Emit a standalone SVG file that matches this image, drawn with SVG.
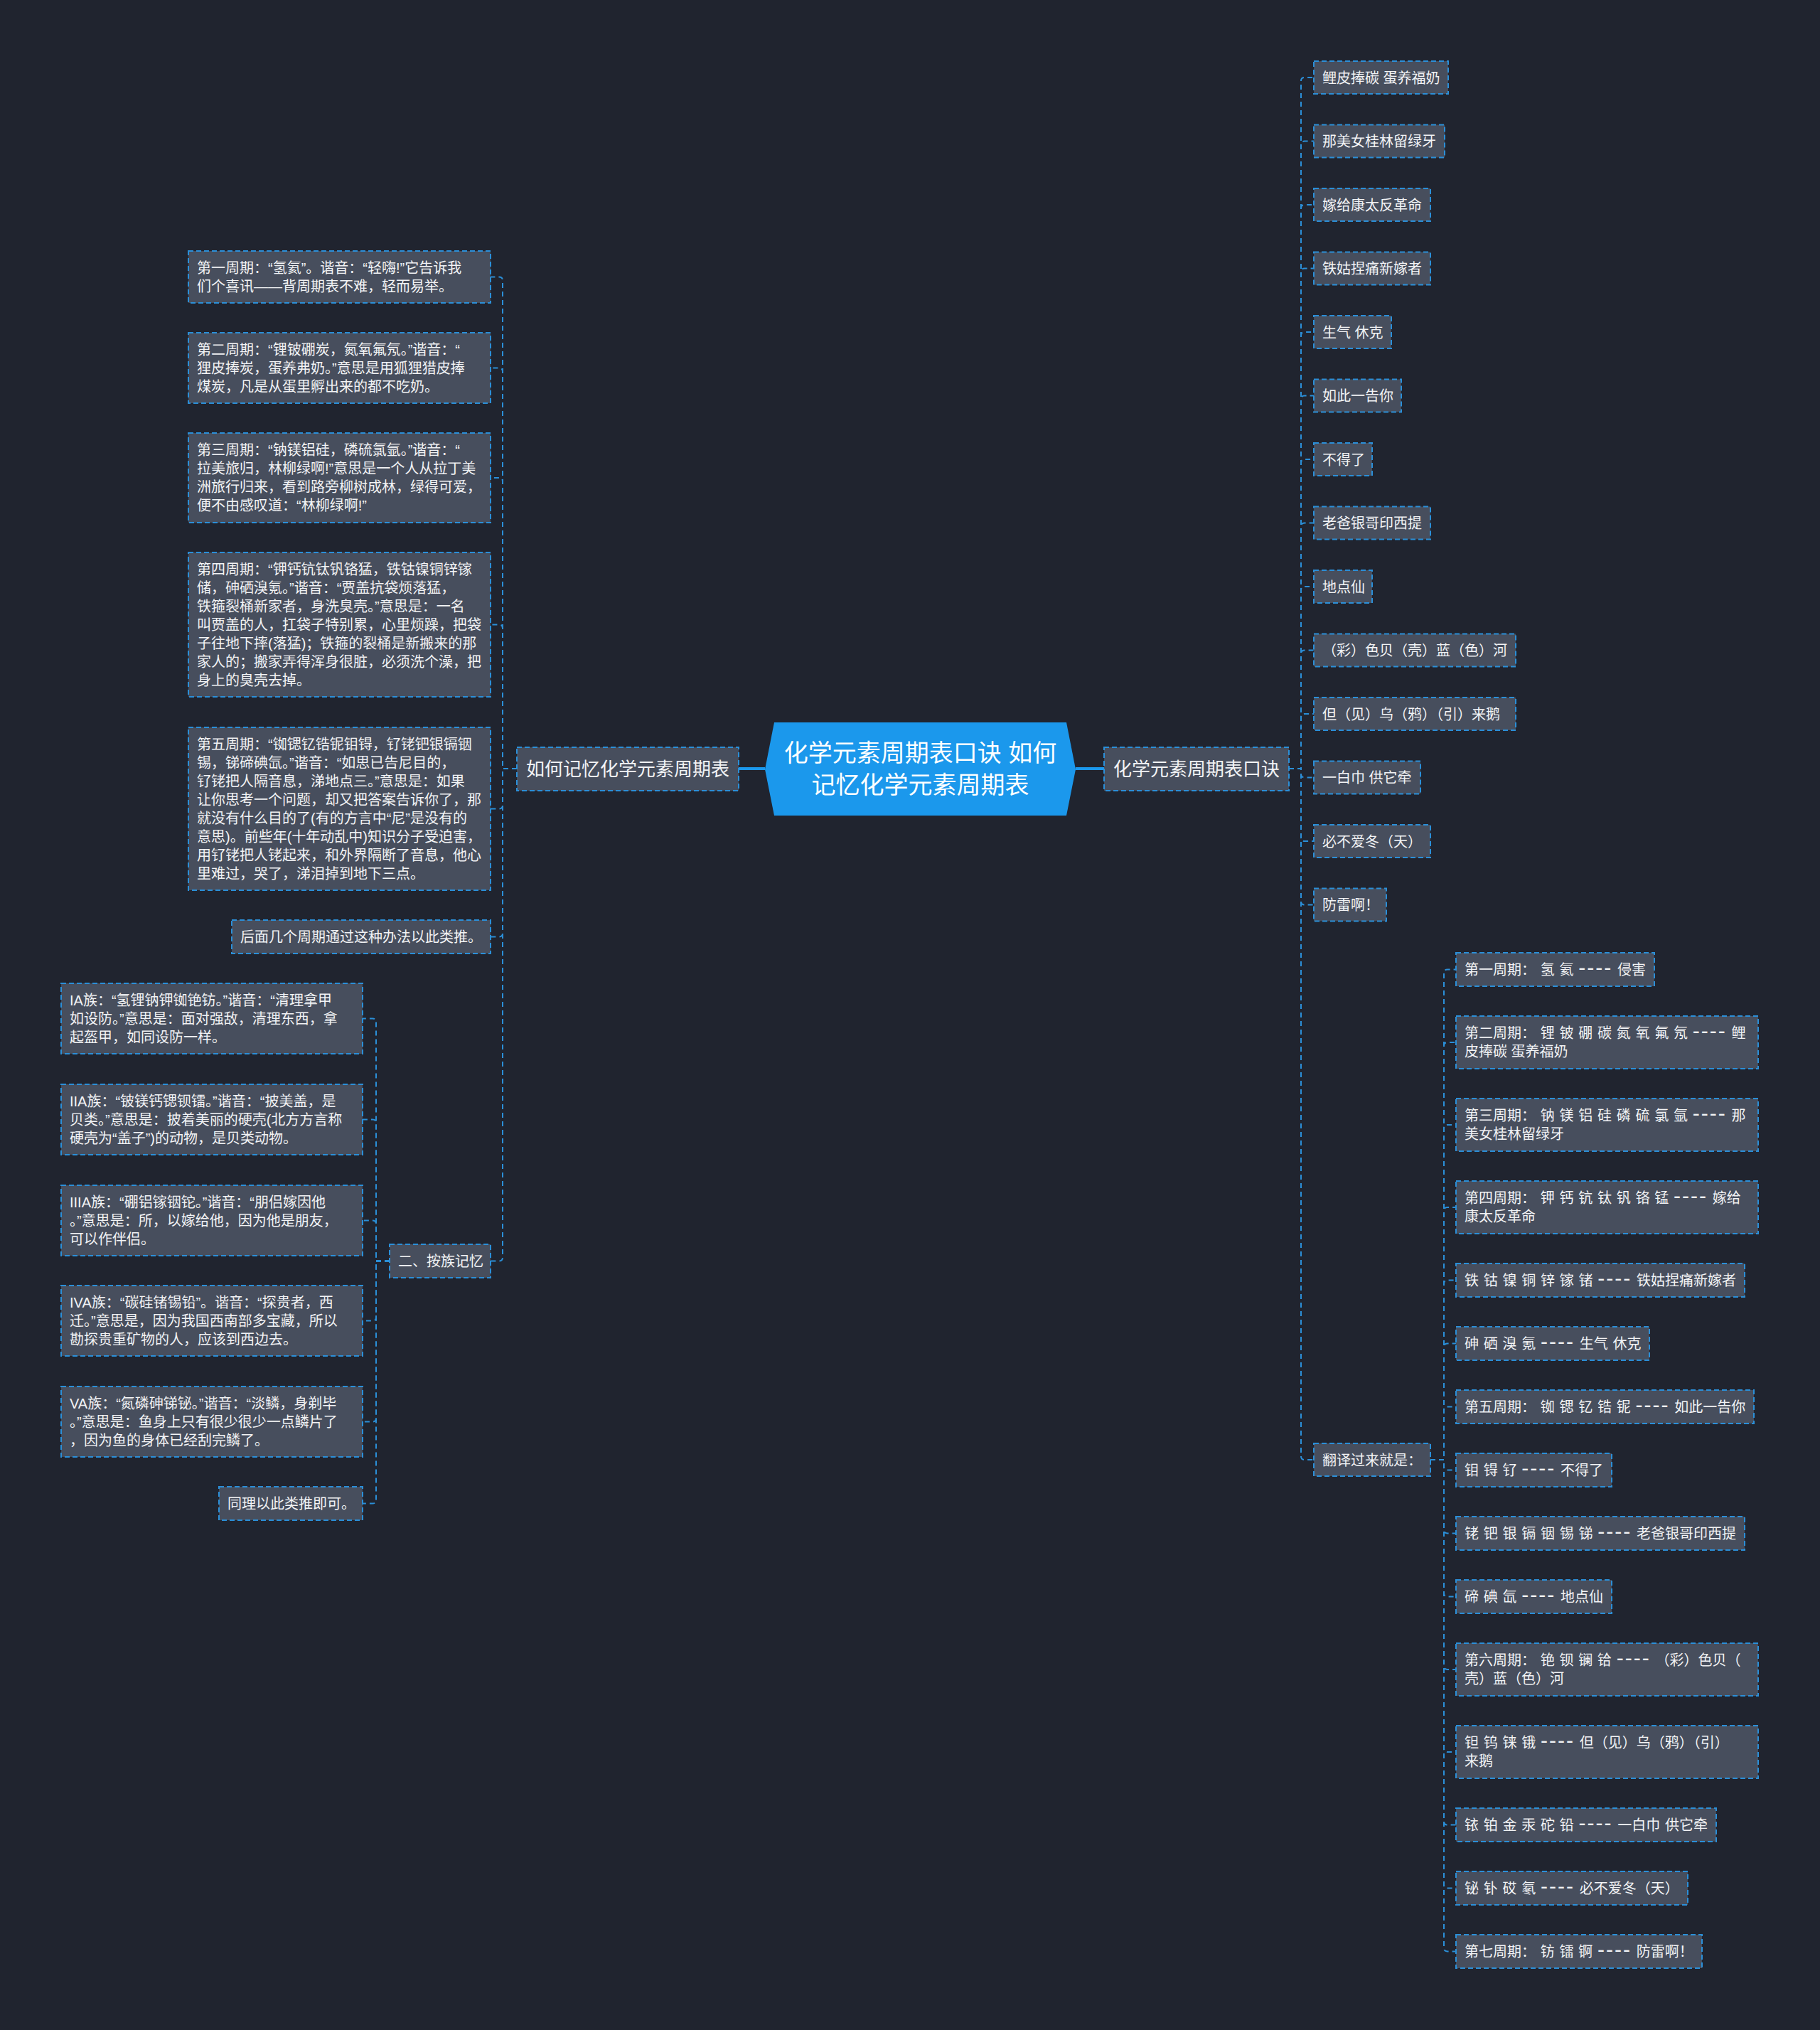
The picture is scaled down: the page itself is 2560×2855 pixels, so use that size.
<svg xmlns="http://www.w3.org/2000/svg" width="2560" height="2855" viewBox="0 0 2560 2855">
<style>
.bg{fill:#20242f}
.n{fill:#474e5d;stroke:#2b8fd8;stroke-width:2;stroke-dasharray:7 4}
.t{font-family:"Liberation Sans","Noto Sans CJK SC",sans-serif;font-size:20px;fill:#f2f3f5}
.m{font-family:"Liberation Sans","Noto Sans CJK SC",sans-serif;font-size:26px;fill:#f2f3f5;text-anchor:middle}
.c{font-family:"Liberation Sans","Noto Sans CJK SC",sans-serif;font-size:34px;fill:#ffffff;text-anchor:middle}
.e{fill:none;stroke:#2b8fd8;stroke-width:2;stroke-dasharray:7 5}
.s{fill:none;stroke:#1b98ec;stroke-width:4}
.w{word-spacing:1.2px}
.d{font-size:30px;letter-spacing:2px}
</style>
<rect class="bg" x="0" y="0" width="2560" height="2855"/>

<g id="connectors">
<path class="s" d="M1076 1081 H1039"/>
<path class="s" d="M1513 1081 H1553"/>
<path class="e" d="M727 1081 H707 V394.5 Q707 389.5 702 389.5 H690"/>
<path class="e" d="M727 1081 H707 V522.5 Q707 517.5 702 517.5 H690"/>
<path class="e" d="M727 1081 H707 V677 Q707 672 702 672 H690"/>
<path class="e" d="M727 1081 H707 V883.5 Q707 878.5 702 878.5 H690"/>
<path class="e" d="M727 1081 H707 V1132.5 Q707 1137.5 702 1137.5 H690"/>
<path class="e" d="M727 1081 H707 V1312.5 Q707 1317.5 702 1317.5 H690"/>
<path class="e" d="M727 1081 H707 V1768.5 Q707 1773.5 702 1773.5 H690"/>
<path class="e" d="M548 1773.5 H529 V1437.5 Q529 1432.5 524 1432.5 H510"/>
<path class="e" d="M548 1773.5 H529 V1579.5 Q529 1574.5 524 1574.5 H510"/>
<path class="e" d="M548 1773.5 H529 V1721.5 Q529 1716.5 524 1716.5 H510"/>
<path class="e" d="M548 1773.5 H529 V1852.5 Q529 1857.5 524 1857.5 H510"/>
<path class="e" d="M548 1773.5 H529 V1994.5 Q529 1999.5 524 1999.5 H510"/>
<path class="e" d="M548 1773.5 H529 V2109.5 Q529 2114.5 524 2114.5 H510"/>
<path class="e" d="M1813 1081 H1830 V114 Q1830 109 1835 109 H1848"/>
<path class="e" d="M1813 1081 H1830 V203.5 Q1830 198.5 1835 198.5 H1848"/>
<path class="e" d="M1813 1081 H1830 V293 Q1830 288 1835 288 H1848"/>
<path class="e" d="M1813 1081 H1830 V382.5 Q1830 377.5 1835 377.5 H1848"/>
<path class="e" d="M1813 1081 H1830 V472 Q1830 467 1835 467 H1848"/>
<path class="e" d="M1813 1081 H1830 V561.5 Q1830 556.5 1835 556.5 H1848"/>
<path class="e" d="M1813 1081 H1830 V651 Q1830 646 1835 646 H1848"/>
<path class="e" d="M1813 1081 H1830 V740.5 Q1830 735.5 1835 735.5 H1848"/>
<path class="e" d="M1813 1081 H1830 V830 Q1830 825 1835 825 H1848"/>
<path class="e" d="M1813 1081 H1830 V919.5 Q1830 914.5 1835 914.5 H1848"/>
<path class="e" d="M1813 1081 H1830 V1009 Q1830 1004 1835 1004 H1848"/>
<path class="e" d="M1813 1081 H1830 V1088.5 Q1830 1093.5 1835 1093.5 H1848"/>
<path class="e" d="M1813 1081 H1830 V1178 Q1830 1183 1835 1183 H1848"/>
<path class="e" d="M1813 1081 H1830 V1267.5 Q1830 1272.5 1835 1272.5 H1848"/>
<path class="e" d="M1813 1081 H1830 V2048 Q1830 2053 1835 2053 H1848"/>
<path class="e" d="M2012 2053 H2031 V1368.5 Q2031 1363.5 2036 1363.5 H2048"/>
<path class="e" d="M2012 2053 H2031 V1471 Q2031 1466 2036 1466 H2048"/>
<path class="e" d="M2012 2053 H2031 V1587 Q2031 1582 2036 1582 H2048"/>
<path class="e" d="M2012 2053 H2031 V1703 Q2031 1698 2036 1698 H2048"/>
<path class="e" d="M2012 2053 H2031 V1805.5 Q2031 1800.5 2036 1800.5 H2048"/>
<path class="e" d="M2012 2053 H2031 V1894.5 Q2031 1889.5 2036 1889.5 H2048"/>
<path class="e" d="M2012 2053 H2031 V1983.5 Q2031 1978.5 2036 1978.5 H2048"/>
<path class="e" d="M2012 2053 H2031 V2062.5 Q2031 2067.5 2036 2067.5 H2048"/>
<path class="e" d="M2012 2053 H2031 V2151.5 Q2031 2156.5 2036 2156.5 H2048"/>
<path class="e" d="M2012 2053 H2031 V2240.5 Q2031 2245.5 2036 2245.5 H2048"/>
<path class="e" d="M2012 2053 H2031 V2343 Q2031 2348 2036 2348 H2048"/>
<path class="e" d="M2012 2053 H2031 V2459 Q2031 2464 2036 2464 H2048"/>
<path class="e" d="M2012 2053 H2031 V2561.5 Q2031 2566.5 2036 2566.5 H2048"/>
<path class="e" d="M2012 2053 H2031 V2650.5 Q2031 2655.5 2036 2655.5 H2048"/>
<path class="e" d="M2012 2053 H2031 V2739.5 Q2031 2744.5 2036 2744.5 H2048"/>
</g>

<g id="center">
<polygon points="1089,1016 1500,1016 1513,1082 1500,1147 1089,1147 1076,1082" fill="#1b98ec"/>
<text class="c" x="1294.5" y="1071">化学元素周期表口诀 如何</text>
<text class="c" x="1294.5" y="1116">记忆化学元素周期表</text>
</g>

<g id="left-main"><rect class="n" x="727" y="1051" width="312" height="61"/><text class="m" x="883" y="1091">如何记忆化学元素周期表</text></g>
<g id="right-main"><rect class="n" x="1553" y="1051" width="260" height="61"/><text class="m" x="1683" y="1091">化学元素周期表口诀</text></g>

<g id="l1-1"><rect class="n" x="265" y="353" width="425" height="73"/>
<text class="t" x="277" y="384">第一周期：“氢氦”。谐音：“轻嗨!”它告诉我</text>
<text class="t" x="277" y="410">们个喜讯——背周期表不难，轻而易举。</text></g>
<g id="l1-2"><rect class="n" x="265" y="468" width="425" height="99"/>
<text class="t" x="277" y="499">第二周期：“锂铍硼炭，氮氧氟氖。”谐音：“</text>
<text class="t" x="277" y="525">狸皮捧炭，蛋养弗奶。”意思是用狐狸猎皮捧</text>
<text class="t" x="277" y="551">煤炭，凡是从蛋里孵出来的都不吃奶。</text></g>
<g id="l1-3"><rect class="n" x="265" y="609" width="425" height="126"/>
<text class="t" x="277" y="640">第三周期：“钠镁铝硅，磷硫氯氩。”谐音：“</text>
<text class="t" x="277" y="666">拉美旅归，林柳绿啊!”意思是一个人从拉丁美</text>
<text class="t" x="277" y="692">洲旅行归来，看到路旁柳树成林，绿得可爱，</text>
<text class="t" x="277" y="718">便不由感叹道：“林柳绿啊!”</text></g>
<g id="l1-4"><rect class="n" x="265" y="777" width="425" height="203"/>
<text class="t" x="277" y="808">第四周期：“钾钙钪钛钒铬猛，铁钴镍铜锌镓</text>
<text class="t" x="277" y="834">储，砷硒溴氪。”谐音：“贾盖抗袋烦落猛，</text>
<text class="t" x="277" y="860">铁箍裂桶新家者，身洗臭壳。”意思是：一名</text>
<text class="t" x="277" y="886">叫贾盖的人，扛袋子特别累，心里烦躁，把袋</text>
<text class="t" x="277" y="912">子往地下摔(落猛)；铁箍的裂桶是新搬来的那</text>
<text class="t" x="277" y="938">家人的；搬家弄得浑身很脏，必须洗个澡，把</text>
<text class="t" x="277" y="964">身上的臭壳去掉。</text></g>
<g id="l1-5"><rect class="n" x="265" y="1023" width="425" height="229"/>
<text class="t" x="277" y="1054">第五周期：“铷锶钇锆铌钼锝，钌铑钯银镉铟</text>
<text class="t" x="277" y="1080">锡，锑碲碘氙。”谐音：“如思已告尼目的，</text>
<text class="t" x="277" y="1106">钌铑把人隔音息，涕地点三。”意思是：如果</text>
<text class="t" x="277" y="1132">让你思考一个问题，却又把答案告诉你了，那</text>
<text class="t" x="277" y="1158">就没有什么目的了(有的方言中“尼”是没有的</text>
<text class="t" x="277" y="1184">意思)。前些年(十年动乱中)知识分子受迫害，</text>
<text class="t" x="277" y="1210">用钌铑把人铑起来，和外界隔断了音息，他心</text>
<text class="t" x="277" y="1236">里难过，哭了，涕泪掉到地下三点。</text></g>
<g id="l1-6"><rect class="n" x="326" y="1294" width="364" height="47"/>
<text class="t" x="338" y="1325">后面几个周期通过这种办法以此类推。</text></g>
<g id="l1-7"><rect class="n" x="548" y="1750" width="142" height="47"/>
<text class="t" x="560" y="1781">二、按族记忆</text></g>

<g id="l2-1"><rect class="n" x="86" y="1383" width="424" height="99"/>
<text class="t" x="98" y="1414">IA族：“氢锂钠钾铷铯钫。”谐音：“清理拿甲</text>
<text class="t" x="98" y="1440">如设防。”意思是：面对强敌，清理东西，拿</text>
<text class="t" x="98" y="1466">起盔甲，如同设防一样。</text></g>
<g id="l2-2"><rect class="n" x="86" y="1525" width="424" height="99"/>
<text class="t" x="98" y="1556">IIA族：“铍镁钙锶钡镭。”谐音：“披美盖，是</text>
<text class="t" x="98" y="1582">贝类。”意思是：披着美丽的硬壳(北方方言称</text>
<text class="t" x="98" y="1608">硬壳为“盖子”)的动物，是贝类动物。</text></g>
<g id="l2-3"><rect class="n" x="86" y="1667" width="424" height="99"/>
<text class="t" x="98" y="1698">IIIA族：“硼铝镓铟铊。”谐音：“朋侣嫁因他</text>
<text class="t" x="98" y="1724">。”意思是：所，以嫁给他，因为他是朋友，</text>
<text class="t" x="98" y="1750">可以作伴侣。</text></g>
<g id="l2-4"><rect class="n" x="86" y="1808" width="424" height="99"/>
<text class="t" x="98" y="1839">IVA族：“碳硅锗锡铅”。谐音：“探贵者，西</text>
<text class="t" x="98" y="1865">迁。”意思是，因为我国西南部多宝藏，所以</text>
<text class="t" x="98" y="1891">勘探贵重矿物的人，应该到西边去。</text></g>
<g id="l2-5"><rect class="n" x="86" y="1950" width="424" height="99"/>
<text class="t" x="98" y="1981">VA族：“氮磷砷锑铋。”谐音：“淡鳞，身剃毕</text>
<text class="t" x="98" y="2007">。”意思是：鱼身上只有很少很少一点鳞片了</text>
<text class="t" x="98" y="2033">，因为鱼的身体已经刮完鳞了。</text></g>
<g id="l2-6"><rect class="n" x="308" y="2091" width="202" height="47"/>
<text class="t" x="320" y="2122">同理以此类推即可。</text></g>

<g id="r1-1"><rect class="n" x="1848" y="86" width="189" height="46"/><text class="t" x="1860" y="116.5">鲤皮捧碳 蛋养福奶</text></g>
<g id="r1-2"><rect class="n" x="1848" y="175.5" width="184" height="46"/><text class="t" x="1860" y="206">那美女桂林留绿牙</text></g>
<g id="r1-3"><rect class="n" x="1848" y="265" width="164" height="46"/><text class="t" x="1860" y="295.5">嫁给康太反革命</text></g>
<g id="r1-4"><rect class="n" x="1848" y="354.5" width="164" height="46"/><text class="t" x="1860" y="385">铁姑捏痛新嫁者</text></g>
<g id="r1-5"><rect class="n" x="1848" y="444" width="109" height="46"/><text class="t" x="1860" y="474.5">生气 休克</text></g>
<g id="r1-6"><rect class="n" x="1848" y="533.5" width="123" height="46"/><text class="t" x="1860" y="564">如此一告你</text></g>
<g id="r1-7"><rect class="n" x="1848" y="623" width="82" height="46"/><text class="t" x="1860" y="653.5">不得了</text></g>
<g id="r1-8"><rect class="n" x="1848" y="712.5" width="164" height="46"/><text class="t" x="1860" y="743">老爸银哥印西提</text></g>
<g id="r1-9"><rect class="n" x="1848" y="802" width="82" height="46"/><text class="t" x="1860" y="832.5">地点仙</text></g>
<g id="r1-10"><rect class="n" x="1848" y="891.5" width="284" height="46"/><text class="t" x="1860" y="922">（彩）色贝（壳）蓝（色）河</text></g>
<g id="r1-11"><rect class="n" x="1848" y="981" width="284" height="46"/><text class="t" x="1860" y="1011.5">但（见）乌（鸦）（引）来鹅</text></g>
<g id="r1-12"><rect class="n" x="1848" y="1070.5" width="150" height="46"/><text class="t" x="1860" y="1101">一白巾 供它牵</text></g>
<g id="r1-13"><rect class="n" x="1848" y="1160" width="164" height="46"/><text class="t" x="1860" y="1190.5">必不爱冬（天）</text></g>
<g id="r1-14"><rect class="n" x="1848" y="1249.5" width="102" height="46"/><text class="t" x="1860" y="1280">防雷啊！</text></g>
<g id="r1-15"><rect class="n" x="1848" y="2030" width="164" height="46"/><text class="t" x="1860" y="2060.5">翻译过来就是：</text></g>

<g id="r2-1"><rect class="n" x="2048" y="1340" width="279" height="47"/><text class="t w" x="2060" y="1371">第一周期： 氢 氦 <tspan class="d">----</tspan> 侵害</text></g>
<g id="r2-2"><rect class="n" x="2048" y="1429" width="425" height="74"/><text class="t w" x="2060" y="1460">第二周期： 锂 铍 硼 碳 氮 氧 氟 氖 <tspan class="d">----</tspan> 鲤</text><text class="t" x="2060" y="1486">皮捧碳 蛋养福奶</text></g>
<g id="r2-3"><rect class="n" x="2048" y="1545" width="425" height="74"/><text class="t w" x="2060" y="1576">第三周期： 钠 镁 铝 硅 磷 硫 氯 氩 <tspan class="d">----</tspan> 那</text><text class="t" x="2060" y="1602">美女桂林留绿牙</text></g>
<g id="r2-4"><rect class="n" x="2048" y="1661" width="425" height="74"/><text class="t w" x="2060" y="1692">第四周期： 钾 钙 钪 钛 钒 铬 锰 <tspan class="d">----</tspan> 嫁给</text><text class="t" x="2060" y="1718">康太反革命</text></g>
<g id="r2-5"><rect class="n" x="2048" y="1777" width="406" height="47"/><text class="t w" x="2060" y="1808">铁 钴 镍 铜 锌 镓 锗 <tspan class="d">----</tspan> 铁姑捏痛新嫁者</text></g>
<g id="r2-6"><rect class="n" x="2048" y="1866" width="272" height="47"/><text class="t w" x="2060" y="1897">砷 硒 溴 氪 <tspan class="d">----</tspan> 生气 休克</text></g>
<g id="r2-7"><rect class="n" x="2048" y="1955" width="419" height="47"/><text class="t w" x="2060" y="1986">第五周期： 铷 锶 钇 锆 铌 <tspan class="d">----</tspan> 如此一告你</text></g>
<g id="r2-8"><rect class="n" x="2048" y="2044" width="219" height="47"/><text class="t w" x="2060" y="2075">钼 锝 钌 <tspan class="d">----</tspan> 不得了</text></g>
<g id="r2-9"><rect class="n" x="2048" y="2133" width="406" height="47"/><text class="t w" x="2060" y="2164">铑 钯 银 镉 铟 锡 锑 <tspan class="d">----</tspan> 老爸银哥印西提</text></g>
<g id="r2-10"><rect class="n" x="2048" y="2222" width="219" height="47"/><text class="t w" x="2060" y="2253">碲 碘 氙 <tspan class="d">----</tspan> 地点仙</text></g>
<g id="r2-11"><rect class="n" x="2048" y="2311" width="425" height="74"/><text class="t w" x="2060" y="2342">第六周期： 铯 钡 镧 铪 <tspan class="d">----</tspan> （彩）色贝（</text><text class="t" x="2060" y="2368">壳）蓝（色）河</text></g>
<g id="r2-12"><rect class="n" x="2048" y="2427" width="425" height="74"/><text class="t w" x="2060" y="2458">钽 钨 铼 锇 <tspan class="d">----</tspan> 但（见）乌（鸦）（引）</text><text class="t" x="2060" y="2484">来鹅</text></g>
<g id="r2-13"><rect class="n" x="2048" y="2543" width="366" height="47"/><text class="t w" x="2060" y="2574">铱 铂 金 汞 砣 铅 <tspan class="d">----</tspan> 一白巾 供它牵</text></g>
<g id="r2-14"><rect class="n" x="2048" y="2632" width="326" height="47"/><text class="t w" x="2060" y="2663">铋 钋 砹 氡 <tspan class="d">----</tspan> 必不爱冬（天）</text></g>
<g id="r2-15"><rect class="n" x="2048" y="2721" width="346" height="47"/><text class="t w" x="2060" y="2752">第七周期： 钫 镭 锕 <tspan class="d">----</tspan> 防雷啊！</text></g>
</svg>
